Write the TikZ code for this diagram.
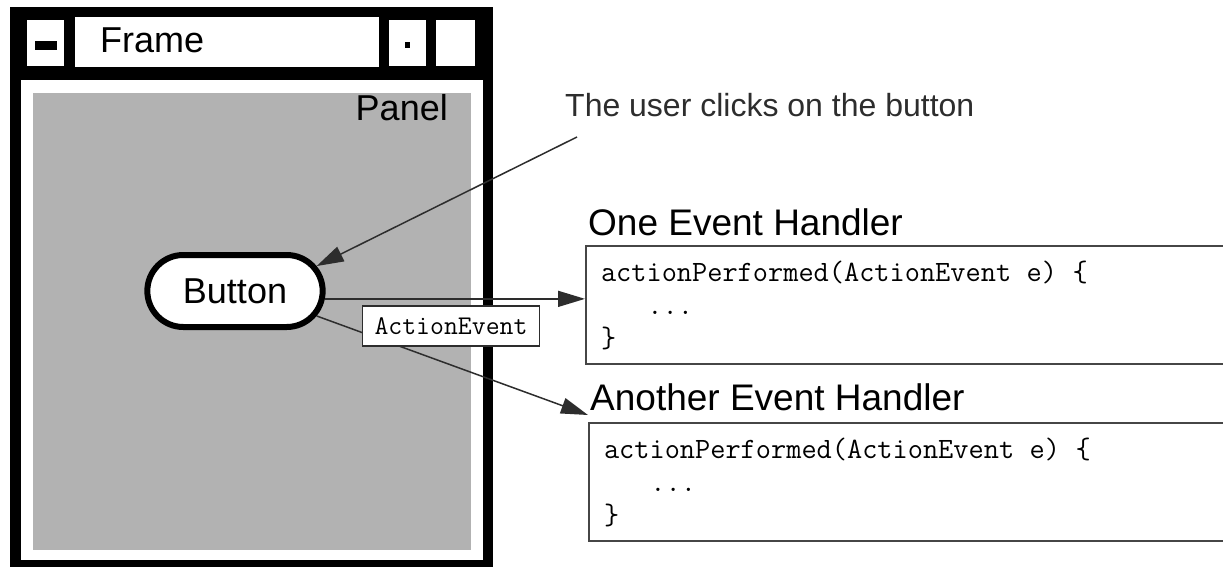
\documentclass[tikz,border=0pt]{standalone}
\usepackage{fontspec}
\setmainfont{Liberation Sans}
\usetikzlibrary{arrows.meta,positioning,shapes.misc}
\definecolor{panelgray}{RGB}{178,178,178}
\definecolor{linegray}{RGB}{45,45,45}
\definecolor{boxgray}{RGB}{70,70,70}
\newcommand{\tsp}{\hspace*{0.525em}}

\begin{document}
\begin{tikzpicture}[x=1pt, y=-1pt,
  arr/.style={draw=linegray, line width=1.5pt, -{Triangle[length=27pt,width=16pt]}},
  codebox/.style={draw=boxgray, line width=2pt, anchor=north west, align=left,
    text width=640pt, minimum height=118pt, inner xsep=15pt,
    font=\ttfamily\fontsize{29.5}{33}\selectfont},
  heading/.style={anchor=base west, inner sep=0pt, font=\fontsize{37}{40}\selectfont},
  winlabel/.style={inner sep=0pt, font=\fontsize{36}{40}\selectfont}]
\useasboundingbox (0,0) rectangle (1223,567);
\clip (0,0) rectangle (1223,567);
% Window frame
\fill[black] (10,7) rectangle (493,580);
\fill[white] (21,80) rectangle (483,560);
\fill[panelgray] (33,93) rectangle (471,550);
% Title bar
\fill[white] (27,20) rectangle (64,66);
\fill[black] (35,41) rectangle (57,50);
\fill[white] (75,17) rectangle (379,67);
\fill[white] (389,20) rectangle (426,66);
\fill[black] (405,42) rectangle (410,48);
\fill[white] (436,20) rectangle (475,66);
\node[winlabel, anchor=base west] (frame) at (100,53) {Frame};
\node[winlabel, anchor=base east] (panel) at (448,121) {Panel};
% Button
\node[rounded rectangle, draw, line width=6pt, fill=white, minimum width=182pt,
  minimum height=72pt, font=\fontsize{36}{40}\selectfont] (btn) at (235,291) {Button};
% Note
\node[anchor=base west, inner sep=0pt, text=linegray, font=\fontsize{32}{36}\selectfont]
  (note) at (565,117) {The user clicks on the button};
% Handlers
\node[heading] (h1title) at (588,235) {One Event Handler};
\node[codebox] (h1) at (585,245) {actionPerformed(ActionEvent\tsp e)\tsp\{\\\hspace*{1.575em}...\\\}};
\node[heading] (h2title) at (590,410) {Another Event Handler};
\node[codebox] (h2) at (588,422) {actionPerformed(ActionEvent\tsp e)\tsp\{\\\hspace*{1.575em}...\\\}};
% Connectors
\draw[arr] ([shift={(12,20)}]note.base west) -- (btn.17);
\draw[arr] (btn.-5) -- (btn.-5 -| h1.west);
\draw[arr] (btn.-17) -- ([yshift=7pt]h2.north west);
\node[draw=linegray, line width=1.2pt, fill=white, minimum width=177pt, minimum height=40pt,
  font=\ttfamily\fontsize{27}{29}\selectfont] (evt) at (451,326) {ActionEvent};
\end{tikzpicture}
\end{document}
